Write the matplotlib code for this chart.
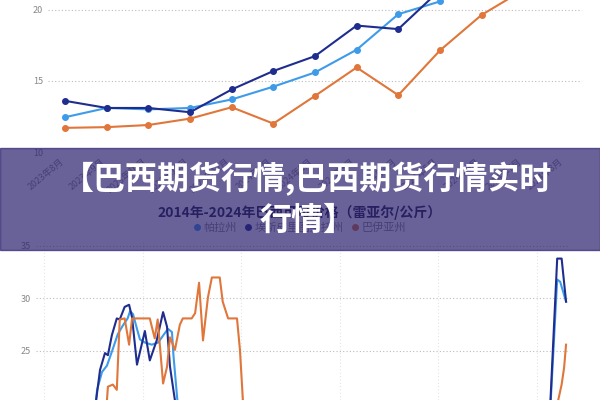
import matplotlib
matplotlib.use("Agg")
import matplotlib.pyplot as plt
from matplotlib.patches import Rectangle
from matplotlib.lines import Line2D

plt.rcParams['font.family'] = ['Noto Sans CJK SC', 'DejaVu Sans']

# top chart: monthly price, 2023-08 .. 2024-08 (values above 20.7 are cut off in the picture)
months = ['2023年8月', '2023年9月', '2023年10月', '2023年11月', '2023年12月', '2024年1月',
          '2024年2月', '2024年3月', '2024年4月', '2024年5月', '2024年6月', '2024年7月', '2024年8月']
para_m = [12.45, 13.1, 13.0, 13.1, 13.7, 14.6, 15.6, 17.2, 19.7, 20.6, 27.0, 31.0, 33.0]
espirito_m = [13.6, 13.1, 13.1, 12.8, 14.4, 15.7, 16.75, 18.9, 18.65, 21.4, 28.0, 32.0, 34.0]
bahia_m = [11.7, 11.75, 11.9, 12.35, 13.15, 12.0, 13.95, 15.95, 14.0, 17.15, 19.65, 21.4, 26.0]

# bottom chart: 2014-2024 (decimal years), only the part above ~20 is visible
para_x = [2015.0, 2015.07, 2015.17, 2015.27, 2015.39, 2015.49, 2015.59, 2015.69, 2015.74, 2015.8,
          2015.88, 2015.94, 2016.04, 2016.18, 2016.31, 2016.43, 2016.51, 2016.59, 2016.62, 2016.7,
          2017.0, 2020.0, 2024.22, 2024.41, 2024.47, 2024.59]
para_y = [18.0, 21.3, 23.0, 23.6, 25.2, 26.6, 27.4, 28.1, 28.8, 28.5,
          27.1, 26.1, 25.8, 25.6, 25.8, 26.6, 27.1, 26.8, 24.6, 20.3,
          15.0, 13.0, 15.0, 31.8, 31.6, 29.7]
espirito_x = [2014.95, 2015.05, 2015.13, 2015.23, 2015.29, 2015.37, 2015.47, 2015.53, 2015.63, 2015.72,
              2015.78, 2015.88, 2016.04, 2016.14, 2016.28, 2016.41, 2016.49, 2016.55, 2016.65,
              2017.0, 2020.0, 2024.22, 2024.41, 2024.5, 2024.59]
espirito_y = [17.0, 20.3, 23.2, 24.8, 24.6, 26.5, 28.1, 28.0, 29.2, 29.4,
              28.2, 23.7, 26.9, 24.1, 26.0, 28.7, 27.3, 23.5, 20.3,
              14.0, 12.5, 15.0, 33.8, 33.8, 29.7]
bahia_x = [2015.2, 2015.27, 2015.29, 2015.39, 2015.47, 2015.53, 2015.63, 2015.72, 2015.78, 2015.88,
           2016.14, 2016.24, 2016.3, 2016.41, 2016.49, 2016.55, 2016.65, 2016.75, 2016.81, 2016.99,
           2017.06, 2017.14, 2017.22, 2017.32, 2017.4, 2017.56, 2017.62, 2017.73, 2017.91, 2017.97,
           2018.03, 2018.3, 2022.0, 2024.43, 2024.5, 2024.55, 2024.59]
bahia_y = [18.0, 20.3, 21.6, 21.8, 21.3, 28.0, 28.1, 25.6, 28.1, 28.1,
           28.1, 26.2, 28.0, 21.9, 23.5, 26.3, 25.1, 27.5, 28.1, 28.1,
           28.6, 31.5, 26.0, 30.1, 32.0, 32.0, 29.7, 28.1, 28.1, 25.1,
           20.3, 14.0, 12.0, 20.3, 21.8, 23.4, 25.6]

names = ['帕拉州', '埃斯皮里图桑托州', '巴伊亚州']
colors = ['#3d9be9', '#1f2d8f', '#e0763a']

fig = plt.figure(figsize=(6, 4), dpi=100)

def style(ax):
    for s in ax.spines.values():
        s.set_visible(False)
    ax.tick_params(length=0, labelsize=6.5, labelcolor='#888888')

# ---- top chart
ax1 = fig.add_axes([0.08, 0.62, 0.89, 0.38])
idx = list(range(len(months)))
for ys, c in zip([para_m, espirito_m, bahia_m], colors):
    ax1.plot(idx, ys, color=c, lw=1.5, marker='o', ms=4)
ax1.set_ylim(10, 20.7)
ax1.set_xlim(-0.41, len(months) - 1 + 0.41)
ax1.set_yticks([10, 15, 20])
ax1.set_xticks(idx)
ax1.set_xticklabels(months, rotation=40, ha='right', fontsize=6, color='#aaaaaa')
ax1.grid(axis='y', color='#bbbbbb', ls=(0, (1, 2)), lw=0.8)
style(ax1)

# ---- bottom chart
ax2 = fig.add_axes([0.06, 0.0, 0.89, 0.40])
for xs, ys, c in zip([para_x, espirito_x, bahia_x], [para_y, espirito_y, bahia_y], colors):
    ax2.plot(xs, ys, color=c, lw=1.5)
ax2.set_ylim(20.33, 35.57)
ax2.set_xlim(2013.83, 2024.67)
ax2.set_yticks([25, 30, 35])
ax2.set_xticks([2014, 2016, 2018, 2020, 2022, 2024])
ax2.set_xticklabels([])
ax2.grid(axis='y', color='#bbbbbb', ls=(0, (1, 2)), lw=0.8)
ax2.grid(axis='x', color='#e4e4e4', ls=(0, (1, 2)), lw=0.8)
style(ax2)

fig.text(0.5, 0.468, '2014年-2024年巴西可可价格（雷亚尔/公斤）', ha='center', va='center',
         fontsize=10, fontweight='bold', color='#1e2440')
handles = [Line2D([], [], ls='none', marker='o', ms=4, color=c) for c in colors]
fig.legend(handles, names, loc='center', bbox_to_anchor=(0.5, 0.43), ncol=3, frameon=False,
           fontsize=8, labelcolor='#888888', handlelength=0.5, handletextpad=0.3,
           columnspacing=0.8)

# ---- banner overlay
fig.patches.append(Rectangle((0, 0.375), 1, 0.255, transform=fig.transFigure,
                             color='#2a1f6e', alpha=0.7, zorder=10))
fig.text(0.512, 0.5525, '【巴西期货行情,巴西期货行情实时', ha='center', va='center',
         fontsize=23, fontweight='bold', color='white', zorder=11)
fig.text(0.512, 0.4475, '行情】', ha='center', va='center',
         fontsize=23, fontweight='bold', color='white', zorder=11)

fig.savefig('out.png', dpi=100)
